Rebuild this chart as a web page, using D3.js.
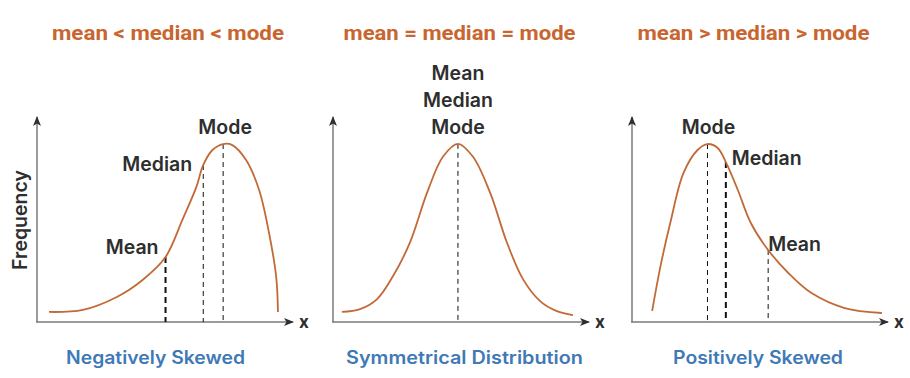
<!DOCTYPE html>
<html>
<head>
<meta charset="utf-8">
<script src="https://cdn.jsdelivr.net/npm/d3@7"></script>
<style>
  html, body { margin: 0; padding: 0; background: #fff; }
  svg { display: block; }
</style>
</head>
<body>
<div id="chart"><svg width="910" height="378"></svg></div>
<script>
// text
const TITLES = ['mean < median < mode', 'mean = median = mode', 'mean > median > mode'];
const CAPTIONS = ['Negatively Skewed', 'Symmetrical Distribution', 'Positively Skewed'];
const Y_LABEL = 'Frequency';
const X_LABEL = 'x';

// curve shapes, x and frequency on a 0-100 scale
const NEG_X = [4.7, 18.0, 31.3, 41.4, 50.4, 57.0, 62.5, 65.2, 68.8, 73.0, 76.6, 82.0, 87.1, 91.0, 93.8, 94.5];
const NEG_Y = [4.9, 5.9, 12.2, 20.5, 31.7, 49.8, 65.9, 76.6, 83.9, 86.8, 86.3, 79.0, 64.4, 43.4, 22.0, 4.9];
const SYM_X = [3.5, 10.6, 17.3, 23.5, 30.2, 36.9, 43.1, 49.0, 54.9, 61.6, 68.2, 74.5, 81.2, 87.8, 94.1];
const SYM_Y = [4.9, 6.3, 11.2, 22.3, 38.8, 63.1, 80.6, 86.9, 80.6, 63.1, 38.8, 20.9, 10.2, 5.3, 3.4];
const POS_X = [7.9, 11.1, 15.0, 20.2, 25.7, 29.6, 33.6, 36.8, 41.5, 46.6, 53.4, 61.3, 70.4, 83.4, 98.0];
const POS_Y = [5.4, 26.8, 48.3, 72.7, 83.9, 86.8, 84.9, 78.0, 64.4, 48.3, 35.1, 23.9, 14.1, 6.8, 4.4];

// marker positions: index into the curve arrays for mean, median, mode
const NEG_MARKS = [4, 7, 9];
const SYM_MARKS = [7, 7, 7];
const POS_MARKS = [10, 7, 5];

const PANELS = [
  { xs: NEG_X, ys: NEG_Y, marks: NEG_MARKS, kind: 'neg' },
  { xs: SYM_X, ys: SYM_Y, marks: SYM_MARKS, kind: 'sym' },
  { xs: POS_X, ys: POS_Y, marks: POS_MARKS, kind: 'pos' },
];

const SVG = d3.select('#chart svg');
const ORANGE = '#c9652f';
const BLUE = '#3f79b6';
const DARK = '#2e2e2e';
const CURVE = '#c26a37';

const X0 = [37, 333, 632];
const AXIS_W = 255;
const TOP = 117;
const BASE = 322;
const TITLE_SHIFT = [3.5, -1, -6];
const CAPTION_SHIFT = [-9, 4, -1.5];

const defs = SVG.append('defs');
defs.append('marker')
  .attr('id', 'arrow')
  .attr('viewBox', '0 0 10 8')
  .attr('refX', 9)
  .attr('refY', 4)
  .attr('markerWidth', 10)
  .attr('markerHeight', 8)
  .attr('markerUnits', 'userSpaceOnUse')
  .attr('orient', 'auto')
  .append('path')
  .attr('d', 'M0,0 L10,4 L0,8 L2.5,4 Z')
  .style('fill', DARK);

PANELS.forEach((p, k) => {
  const x = d3.scaleLinear().domain([0, 100]).range([X0[k], X0[k] + AXIS_W]);
  const y = d3.scaleLinear().domain([0, 100]).range([BASE, TOP]);
  const g = SVG.append('g').attr('id', 'panel' + k);
  const pts = p.xs.map((v, i) => ({ x: v, y: p.ys[i] }));
  const cx = (x(0) + x(100)) / 2;

  // axes
  g.append('line')
    .attr('x1', x(0)).attr('y1', BASE + 0.5)
    .attr('x2', x(0)).attr('y2', TOP)
    .attr('marker-end', 'url(#arrow)')
    .style('stroke', '#7a7a7a').style('stroke-width', 1.5);
  g.append('line')
    .attr('x1', x(0) - 0.75).attr('y1', BASE)
    .attr('x2', x(100) + 1).attr('y2', BASE)
    .attr('marker-end', 'url(#arrow)')
    .style('stroke', '#7a7a7a').style('stroke-width', 1.5);
  g.append('text')
    .attr('x', x(100) + 12).attr('y', BASE + 6)
    .style('text-anchor', 'middle')
    .style('font-family', 'Inter, "DejaVu Sans", sans-serif')
    .style('font-weight', 700).style('font-size', '17px')
    .style('fill', DARK)
    .text(X_LABEL);

  // dashed guides
  const thick = p.kind === 'neg' ? 0 : p.kind === 'pos' ? 1 : -1;
  const uniq = Array.from(new Set(p.marks));
  uniq.forEach((m) => {
    const bold = p.marks.indexOf(m) === thick;
    g.append('line')
      .attr('x1', x(pts[m].x)).attr('x2', x(pts[m].x))
      .attr('y1', y(pts[m].y)).attr('y2', BASE)
      .style('stroke', '#111')
      .style('stroke-width', bold ? 2 : 1)
      .style('stroke-dasharray', bold ? '6,4' : '5,4');
  });

  // curve
  g.append('path')
    .datum(pts)
    .attr('d', d3.line().x((d) => x(d.x)).y((d) => y(d.y)).curve(d3.curveCatmullRom.alpha(0.5)))
    .style('fill', 'none')
    .style('stroke', CURVE)
    .style('stroke-width', 1.8);

  // title and caption
  g.append('text')
    .attr('x', cx + TITLE_SHIFT[k]).attr('y', 40)
    .attr('textLength', 232).attr('lengthAdjust', 'spacingAndGlyphs')
    .style('text-anchor', 'middle')
    .style('font-family', '"Liberation Sans Narrow", "Roboto", sans-serif')
    .style('font-weight', 700).style('font-size', '21px')
    .style('fill', ORANGE)
    .text(TITLES[k]);
  g.append('text')
    .attr('x', cx + CAPTION_SHIFT[k]).attr('y', 364)
    .attr('textLength', [179, 237, 170][k]).attr('lengthAdjust', 'spacingAndGlyphs')
    .style('text-anchor', 'middle')
    .style('font-family', 'Inter, "Liberation Sans", sans-serif')
    .style('font-weight', 600).style('font-size', '18px')
    .style('fill', BLUE)
    .text(CAPTIONS[k]);

  // annotation labels
  const lab = (tx, ty, anchor, s) => g.append('text')
    .attr('x', tx).attr('y', ty)
    .style('text-anchor', anchor)
    .style('font-family', 'Inter, "Liberation Sans", sans-serif')
    .style('font-weight', 600).style('font-size', '19.5px')
    .style('fill', DARK)
    .text(s);
  const mean = pts[p.marks[0]], median = pts[p.marks[1]], mode = pts[p.marks[2]];
  if (p.kind === 'neg') {
    lab(x(mode.x) + 2, y(mode.y) - 10, 'middle', 'Mode');
    lab(x(median.x) - 11, y(median.y) + 6, 'end', 'Median');
    lab(x(mean.x) - 7, y(mean.y) - 3, 'end', 'Mean');
  } else if (p.kind === 'sym') {
    lab(x(mode.x), y(mode.y) - 10, 'middle', 'Mode');
    lab(x(mode.x), y(mode.y) - 37, 'middle', 'Median');
    lab(x(mode.x), y(mode.y) - 64, 'middle', 'Mean');
  } else {
    lab(x(mode.x) + 1, y(mode.y) - 10, 'middle', 'Mode');
    lab(x(median.x) + 6, y(median.y) + 3, 'start', 'Median');
    lab(x(mean.x), y(mean.y) + 1, 'start', 'Mean');
  }
});

SVG.append('text')
  .attr('transform', 'translate(27,220) rotate(-90)')
  .style('text-anchor', 'middle')
  .style('font-family', 'Inter, "Liberation Sans", sans-serif')
  .style('font-weight', 600).style('font-size', '19.5px')
  .style('fill', DARK)
  .text(Y_LABEL);
</script>
</body>
</html>
